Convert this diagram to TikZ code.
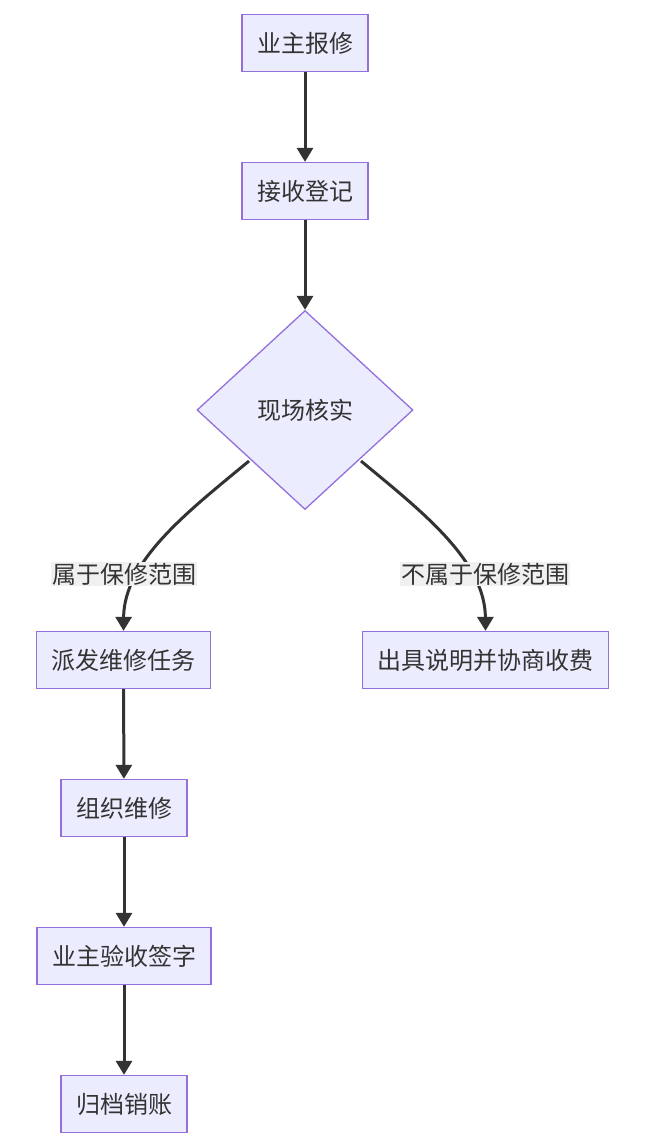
\documentclass[tikz,border=0pt]{standalone}
\usepackage{fontspec}
\setmainfont{Noto Sans CJK SC}
\usetikzlibrary{shapes.geometric,arrows.meta}
\definecolor{boxfill}{HTML}{ECECFF}
\definecolor{boxline}{HTML}{9370DB}
\definecolor{edge}{HTML}{333333}
\tikzset{
    task/.style={
        draw=boxline,
        fill=boxfill,
        line width=1.3pt,
        rectangle,
        minimum height=57pt,
        inner xsep=15pt,
        text=edge,
        font=\fontsize{24}{28}\selectfont
    },
    check/.style={
        draw=boxline,
        fill=boxfill,
        line width=1.3pt,
        diamond,
        minimum width=216pt,
        minimum height=199pt,
        inner sep=0pt,
        text=edge,
        font=\fontsize{24}{28}\selectfont
    },
    flow/.style={
        draw=edge,
        line width=3pt,
        -{Triangle[length=14pt,width=16pt]}
    },
    tag/.style={
        fill=black!6,
        inner sep=1pt,
        text=edge,
        font=\fontsize{24}{28}\selectfont
    },
}
\begin{document}
\begin{tikzpicture}[x=1pt,y=-1pt]
        \useasboundingbox (0,0) rectangle (657,1148);
        % blocks
        \node[task] (report) at (305,43) {业主报修};
        \node[task] (register) at (305,191) {接收登记};
        \node[check] (inspect) at (305,410) {现场核实};
        \node[task] (dispatch) at (123.5,660) {派发维修任务};
        \node[task] (explain) at (485.5,660) {出具说明并协商收费};
        \node[task] (repair) at (124,808) {组织维修};
        \node[task] (accept) at (124,956) {业主验收签字};
        \node[task] (archive) at (124,1104) {归档销账};
        
        % lines
        \draw[flow] (report) -- (register);
        \draw[flow] (register) -- (inspect.north);
        \draw[flow] (249,461) .. controls (190,510) and (124,560) .. (dispatch.north);
        \draw[flow] (361,461) .. controls (420,510) and (485,560) .. (explain.north);
        \draw[flow] (dispatch) -- (repair);
        \draw[flow] (repair) -- (accept);
        \draw[flow] (accept) -- (archive);
        
        % labels
        \node[tag] (inscope) at (124,574) {属于保修范围};
        \node[tag] (outscope) at (485,574) {不属于保修范围};
    \end{tikzpicture}
\end{document}
